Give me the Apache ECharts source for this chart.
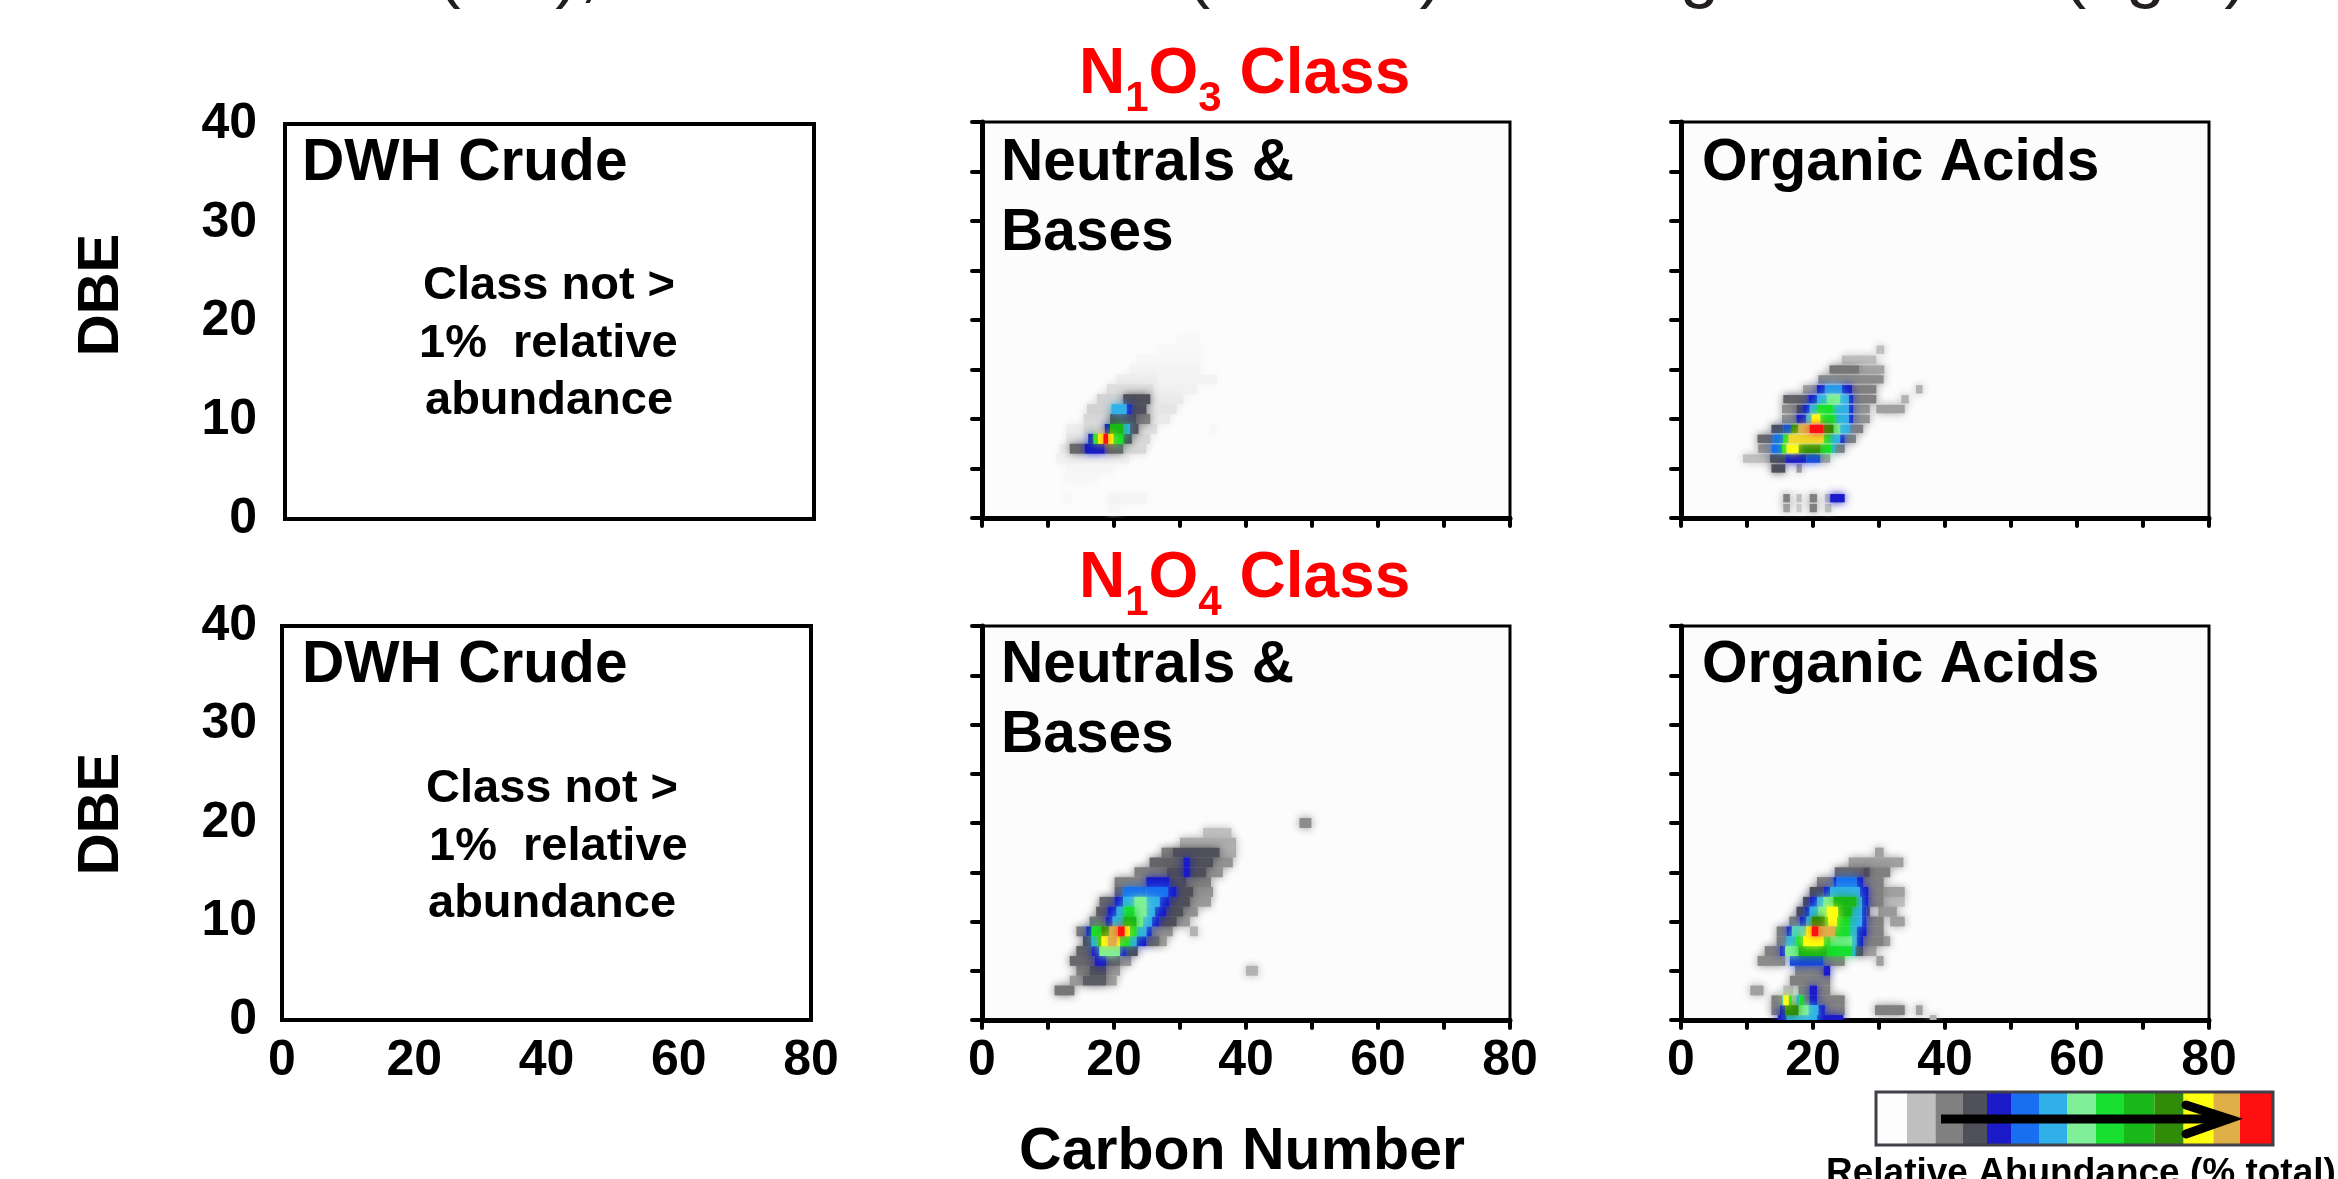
<!DOCTYPE html>
<html><head><meta charset="utf-8">
<style>html,body{margin:0;padding:0;background:#fff}#c{width:2338px;height:1179px}</style>
<script src="https://cdn.jsdelivr.net/npm/echarts@6/dist/echarts.min.js"></script>
</head><body><div id="c"></div>
<script>
// Each run: [carbon from, carbon to, DBE, abundance level 0-13]
const n1o3Neutrals = [
[19.1,20.9,1,.1],[12.3,13.6,2,.1],[19.1,24.9,2,.15],[12.3,17.4,4,.1],[12.8,19.9,5,.12],[11.3,22.4,6,.2],
[11.8,13.3,7,.3],[13.3,15.6,7,2.5],[15.6,18.6,7,4],[18.6,21.4,7,2.5],[21.4,24.9,7,.6],
[12.8,16.1,8,.4],[16.1,16.9,8,4],[16.9,17.6,8,8],[17.6,18.4,8,11],[18.4,19.1,8,13],[19.1,19.9,8,11],[19.9,21.4,8,8],[21.4,22.7,8,3],[22.7,25.5,8,.6],
[12.8,15.4,9,.25],[15.4,18.6,9,.6],[18.6,19.4,9,4],[19.4,21.4,9,9],[21.4,22.4,9,6],[22.4,23.7,9,3],[23.7,26.5,9,.5],[34.5,35.6,9,.1],
[15.4,19.4,10,.6],[19.4,23.4,10,3],[23.4,25.5,10,2],[25.5,28.5,10,.3],
[15.9,19.6,11,.7],[19.6,21.9,11,6],[21.9,22.7,11,4],[22.7,24.9,11,3],[24.9,29.5,11,.4],
[17.4,21.4,12,.7],[21.4,25.5,12,3],[25.5,30.5,12,.3],
[18.9,26,13,.5],[26,32.5,13,.2],[20.4,26.5,14,.25],[26.5,35.6,14,.15],[22.4,33,15,.15],[23.4,33.5,16,.1],[26.5,33.5,17,.08],[29.5,33,18,.06],[31.3,32.8,19,.04]
];
const n1o3Organic = [
[15.5,16.5,1,1.5],[17.5,18.3,1,.8],[19.5,20.6,1,2],[21.8,22.8,1,1],
[15.5,16.5,2,2],[17.5,18.3,2,1],[19.5,20.6,2,2],[21.8,22.6,2,1],[22.6,24.8,2,4],
[13.7,15.8,5,3],[17.5,18.3,5,1.5],
[9.4,13.5,6,1],[13.5,15.8,6,3],[15.8,19,6,4],[19,21.1,6,4.6],[21.1,22.6,6,1.5],
[11.7,13.7,7,1.7],[13.7,15.3,7,5],[15.3,16,7,8],[16,17.8,7,11],[17.8,21.1,7,10],[21.1,22.8,7,8],[22.8,23.3,7,6],[23.3,24.8,7,2],
[11.6,14,8,2.5],[14,15.5,8,5],[15.5,16.3,8,8],[16.3,21.6,8,11.5],[21.6,22.6,8,8],[22.6,24.1,8,6],[24.1,24.8,8,4],[24.8,26.5,8,2],
[13.7,15.5,9,3],[15.5,16.8,9,4.6],[16.8,17.8,9,10],[17.8,19.5,9,12],[19.5,21.6,9,13],[21.6,23.1,9,10],[23.1,24.1,9,7],[24.1,25.6,9,6],[25.6,27.6,9,2],
[15.3,17.5,10,1.7],[17.5,19,10,4],[19,19.8,10,6],[19.8,21.1,10,11],[21.1,23.3,10,8],[23.3,25.4,10,6],[25.4,26.1,10,4],[26.1,28.6,10,1.7],
[15.3,17.5,11,1.7],[17.5,18.5,11,3],[18.5,19.5,11,4],[19.5,20.6,11,6],[20.6,23.1,11,8],[23.1,25.4,11,6],[25.4,26.1,11,4],[26.1,28.6,11,1.7],[29.6,33.9,11,1.5],
[15.5,19.3,12,2.6],[19.3,20.6,12,4],[20.6,22.1,12,6],[22.1,24.1,12,7],[24.1,25.4,12,6],[25.4,26.1,12,4],[26.1,29.6,12,2],[33.4,34.5,12,1.2],
[18.5,20.6,13,1.5],[20.6,21.8,13,4],[21.8,24.4,13,5.6],[24.4,25.9,13,4],[25.9,29.6,13,2],[35.6,36.6,13,1.2],
[20.8,30.7,14,1.8],[22.5,27,15,2.2],[27,30.8,15,1.4],[24.4,29.6,16,1],[29.6,30.8,17,1]
];
const n1o4Neutrals = [
[11,14,3,2.2],[13.3,15.3,4,1.5],[15.3,18.8,4,2.7],[18.8,20.4,4,1.5],[14.3,16.3,5,2],[16.3,18.8,5,3],[18.8,20.9,5,1.6],[40,41.8,5,1.2],
[13.3,17.1,6,2.5],[17.1,18.8,6,4],[18.8,20.9,6,2.6],[20.9,22.6,6,1.6],
[14.3,16.6,7,2.6],[16.6,17.8,7,4],[17.8,20.9,7,7],[20.9,21.9,7,4],[21.9,23.6,7,3],
[15.3,16.6,8,3],[16.6,17.6,8,6],[17.6,18.1,8,9],[18.1,19.1,8,11],[19.1,20.4,8,12],[20.4,20.9,8,11],[20.9,22.4,8,8],[22.4,23.4,8,6],[23.4,24.9,8,4],[24.9,26.9,8,2.5],[26.9,28,8,1.5],
[14.3,15.8,9,2],[15.8,16.6,9,4],[16.6,18.1,9,8],[18.1,19.3,9,10],[19.3,20.6,9,12],[20.6,20.9,9,13],[20.9,21.6,9,13],[21.6,22.4,9,11],[22.4,23.4,9,8],[23.4,24.9,9,6],[24.9,25.7,9,4],[25.7,28.9,9,1.7],[31.5,32.7,9,1.2],
[16.3,18.8,10,2.2],[18.8,19.8,10,4],[19.8,21.4,10,6],[21.4,23.4,10,9],[23.4,24.4,10,7],[24.4,25.7,10,6],[25.7,26.9,10,4],[26.9,29.5,10,3],[29.5,31.5,10,1.6],
[17.3,19.1,11,2.7],[19.1,20.4,11,4],[20.4,21.6,11,6],[21.6,23.1,11,8],[23.1,24.9,11,7],[24.9,26.2,11,6],[26.2,27.9,11,4],[27.9,30.5,11,3],[30.5,32.7,11,1.7],
[17.8,20.1,12,2.5],[20.1,21.4,12,4],[21.4,23.1,12,6],[23.1,24.9,12,7],[24.9,26.9,12,6],[26.9,28.4,12,4],[28.4,31.5,12,3],[31.5,34.7,12,1.6],
[20.1,21.4,13,2.5],[21.4,24.9,13,5],[24.9,28.2,13,5],[28.2,29.5,13,4],[29.5,32,13,3],[32,35,13,1.7],
[20.1,24.9,14,2],[24.9,28.4,14,4],[28.4,31,14,3],[31,34.7,14,2],
[23.1,28,15,2],[28,30.5,15,3],[30.5,31.5,15,4],[31.5,34,15,3],[34,36.5,15,1.7],
[25.4,30.5,16,2.6],[30.5,31.5,16,4],[31.5,35,16,3],[35,38,16,1.7],
[27.2,28.9,17,2],[28.9,36,17,3],[36,38.5,17,1.3],[30,38.5,18,1.3],[33.5,37.8,19,1],[48.1,49.9,20,1.8]
];
const n1o4Organic = [
[14.7,16,0,4],[16,20.6,0,6],[20.6,24.6,0,4],[37.7,38.7,0,1.2],
[13.7,15,1,2],[15,15.8,1,4],[15.8,17.8,1,10],[17.8,19.3,1,7],[19.3,20.8,1,6],[20.8,21.8,1,4],[21.8,24.8,1,2],[29.4,33.9,1,2],[35.6,36.6,1,1.5],
[13.7,15.3,2,2],[15.3,15.5,2,6],[15.5,16.3,2,11],[16.3,16.8,2,8],[16.8,17.5,2,1],[17.5,18,2,6],[18,18.5,2,8],[18.5,19.5,2,2],[19.5,20.6,2,4],[20.6,24.8,2,2],
[10.5,12.5,3,1.5],[15.5,17,3,1],[17.8,19.5,3,2],[19.5,20.6,3,4],[20.6,22.6,3,2],
[16.5,22.6,4,2],[17.3,21.6,5,2],[21.6,22.6,5,4],
[11.6,15.8,6,1.8],[16.5,21.6,6,4.5],[21.6,24.8,6,2],[29.6,30.7,6,1.5],
[12.7,15,7,2],[15,15.8,7,4],[15.8,17.8,7,7],[17.8,22.1,7,9],[22.1,25.9,7,8],[25.9,26.4,7,6],[26.4,27.6,7,3],[27.6,29.6,7,1.5],
[14.5,16,8,2],[16,17.5,8,6],[17.5,18.5,8,8],[18.5,21.6,8,11],[21.6,22.6,8,8],[22.6,25.9,8,7],[25.9,26.6,8,6],[26.6,27.6,8,4],[27.6,30.7,8,2],[30.7,31.7,8,1.5],
[14.5,16,9,2],[16,16.8,9,4],[16.8,19,9,6.5],[19,19.8,9,11],[19.8,20.8,9,13],[20.8,23.3,9,12],[23.3,25.6,9,8],[25.6,26.6,9,6],[26.6,28.1,9,4],[28.1,30.7,9,2],
[16.4,18,10,2],[18,19,10,4],[19,19.8,10,6],[19.8,21.8,10,10],[21.8,22.3,10,8],[22.3,23.6,10,11],[23.6,25.6,10,8],[25.6,27.4,10,6],[27.4,28.1,10,4],[28.1,30.7,10,2],[31.7,33.9,10,1.5],
[17.5,18.8,11,3],[18.8,19.5,11,4],[19.5,20.8,11,6],[20.8,22.1,11,7],[22.1,23.8,11,11],[23.8,25.9,11,9],[25.9,27.4,11,6],[27.4,28.1,11,4],[28.1,28.6,11,3],[29.9,32.7,11,1.6],
[18.5,19.5,12,3],[19.5,20.6,12,4],[20.6,21.6,12,6],[21.6,23.1,12,7],[23.1,26.6,12,9],[26.6,27.4,12,6],[27.4,28.4,12,4],[28.4,30.7,12,2],[30.7,33.9,12,1],
[19.5,21.6,13,3],[21.6,22.6,13,4],[22.6,27.1,13,6],[27.1,28.4,13,4],[28.4,30.7,13,2],[30.7,33.9,13,1.5],
[20.6,23.1,14,2],[23.1,23.6,14,4],[23.6,26.6,14,5],[26.6,27.6,14,4],[27.6,30.7,14,2],
[23.3,27.6,15,2.5],[27.6,28.6,15,3],[28.6,31.7,15,2],[25.4,33.7,16,1.5],[29.4,30.7,17,1.5]
];
const abundanceColors = ['#fdfdfd','#c0c0c0','#808080','#50505a','#1a1ac8','#1870f0','#30b0e8','#80f098','#18e030','#18b818','#308c08','#ffff10','#e0b048','#ff1010'];
const legendStops = [1876,1907,1935.5,1963,1987,2011,2039,2067,2096,2124,2154.5,2183.6,2213.5,2240,2273];
const xTicks = {min:0,max:80,interval:20};
const yTicks = {min:0,max:40,interval:10};
const font = '"Liberation Sans", Arial, sans-serif';

const panels = [
 {box:[285,124,529,395], data:[], plain:true, yLab:true, xLab:false, margin:28},
 {box:[982,122,528,396], data:n1o3Neutrals, rowH:1, xLab:false},
 {box:[1681,122,528,396], data:n1o3Organic, rowH:.84, xLab:false},
 {box:[282,626,529,394], data:[], plain:true, yLab:true, xLab:true, margin:25},
 {box:[982,626,528,394], data:n1o4Neutrals, rowH:1, xLab:true},
 {box:[1681,626,528,394], data:n1o4Organic, rowH:1, xLab:true}
];
const labelStyle = {color:'#000',fontFamily:font,fontWeight:'bold',fontSize:50};
const grid=[],xAxis=[],yAxis=[],series=[];
panels.forEach((p,i)=>{
  grid.push({left:p.box[0],top:p.box[1],width:p.box[2],height:p.box[3],show:true,
    borderColor:'#000',borderWidth:p.plain?4:3,backgroundColor:p.plain?'#fff':'#fcfcfc'});
  xAxis.push({type:'value',gridIndex:i,...xTicks,splitLine:{show:false},
    axisLine:{show:true,onZero:false,lineStyle:{color:'#000',width:p.plain?4:5}},
    axisTick:{show:!p.plain,length:8,lineStyle:{color:'#000',width:4,cap:'round'}},
    minorTick:{show:!p.plain,splitNumber:2,length:8,lineStyle:{color:'#000',width:4,cap:'round'}},
    minorSplitLine:{show:false},
    axisLabel:{show:p.xLab,margin:16,...labelStyle,hideOverlap:false}});
  yAxis.push({type:'value',gridIndex:i,...yTicks,splitLine:{show:false},
    axisLine:{show:true,onZero:false,lineStyle:{color:'#000',width:p.plain?4:5}},
    axisTick:{show:!p.plain,length:10,lineStyle:{color:'#000',width:4,cap:'round'}},
    minorTick:{show:!p.plain,splitNumber:2,length:10,lineStyle:{color:'#000',width:4,cap:'round'}},
    minorSplitLine:{show:false},
    axisLabel:{show:!!p.yLab,margin:p.margin||10,padding:[6,0,0,0],...labelStyle,hideOverlap:false}});
  const rowH=p.rowH||1;
  series.push({type:'custom',xAxisIndex:i,yAxisIndex:i,clip:true,silent:true,animation:false,
    data:p.data.slice().sort((a,b)=>a[3]-b[3]),
    encode:{x:[0,1],y:2},
    renderItem(params,api){
      const a=api.coord([api.value(0),api.value(2)+rowH/2]);
      const b=api.coord([api.value(1),api.value(2)-rowH/2]);
      const color=api.visual('color');
      return {type:'rect',shape:{x:a[0],y:a[1],width:b[0]-a[0],height:b[1]-a[1]},
        style:{fill:color,shadowBlur:8,shadowColor:color}};
    }});
});

const g=[];
const txt=(x,y,text,fontSize,extra={})=>g.push({type:'text',x,y,silent:true,z:50,...extra.el,style:{x:0,y:0,text,fontFamily:font,fontWeight:'bold',fontSize,fill:'#000',align:'left',verticalAlign:'middle',...extra.st}});
[[302,164,'DWH Crude'],[1001,164,'Neutrals &'],[1001,234,'Bases'],[1702,164,'Organic Acids'],
 [302,666,'DWH Crude'],[1001,666,'Neutrals &'],[1001,736,'Bases'],[1702,666,'Organic Acids']]
 .forEach(t=>txt(t[0],t[1],t[2],58.6));
[[423,286,'Class not >'],[419,344,'1%  relative'],[425,401,'abundance'],
 [426,789,'Class not >'],[429,847,'1%  relative'],[428,904,'abundance']]
 .forEach(t=>txt(t[0],t[1],t[2],47));
txt(102,295,'DBE',58,{el:{rotation:Math.PI/2},st:{align:'center'}});
txt(102,814,'DBE',58,{el:{rotation:Math.PI/2},st:{align:'center'}});
txt(1242,1153,'Carbon Number',59,{st:{align:'center'}});
txt(1826,1174,'Relative Abundance (% total)',37);
const sub={fontSize:42,fontWeight:'bold',fontFamily:font,fill:'#ff0000',verticalAlign:'bottom'};
const big={fontSize:64,fontWeight:'bold',fontFamily:font,fill:'#ff0000',verticalAlign:'bottom',padding:[0,0,13,0]};
[[82,'3'],[586,'4']].forEach(([y,n])=>g.push({type:'text',x:1079,y,silent:true,z:50,style:{
  text:'{a|N}{s|1}{a|O}{s|'+n+'}{a| Class}',rich:{a:big,s:sub},verticalAlign:'middle',align:'left'}}));
// clipped headline at the very top of the figure
g.push({type:'text',x:-72,y:10,silent:true,z:50,style:{text:'DWH Crude Oil (left), Neutrals & Bases (middle) and Organic Acids (right)',
  fontFamily:font,fontSize:71,fontWeight:'normal',fill:'#231f20',align:'left',verticalAlign:'bottom'}});
// colour scale legend
abundanceColors.forEach((c,i)=>g.push({type:'rect',silent:true,z:50,shape:{x:legendStops[i],y:1092,width:legendStops[i+1]-legendStops[i],height:53},style:{fill:c}}));
g.push({type:'rect',silent:true,z:51,shape:{x:1876,y:1092,width:397,height:53},style:{fill:'none',stroke:'#404048',lineWidth:3}});
g.push({type:'line',silent:true,z:52,shape:{x1:1941,y1:1119,x2:2226,y2:1119},style:{stroke:'#000',lineWidth:9}});
g.push({type:'polyline',silent:true,z:52,shape:{points:[[2186,1105],[2229,1119],[2186,1134]]},style:{stroke:'#000',lineWidth:9,fill:'none',lineCap:'round',lineJoin:'miter'}});

const chart=echarts.init(document.getElementById('c'),null,{renderer:'canvas',width:2338,height:1179});
chart.setOption({animation:false,backgroundColor:'#fff',grid,xAxis,yAxis,series,graphic:g,
  visualMap:{show:false,type:'continuous',min:0,max:13,dimension:3,seriesIndex:series.map((s,i)=>i),inRange:{color:abundanceColors}}});
</script></body></html>
